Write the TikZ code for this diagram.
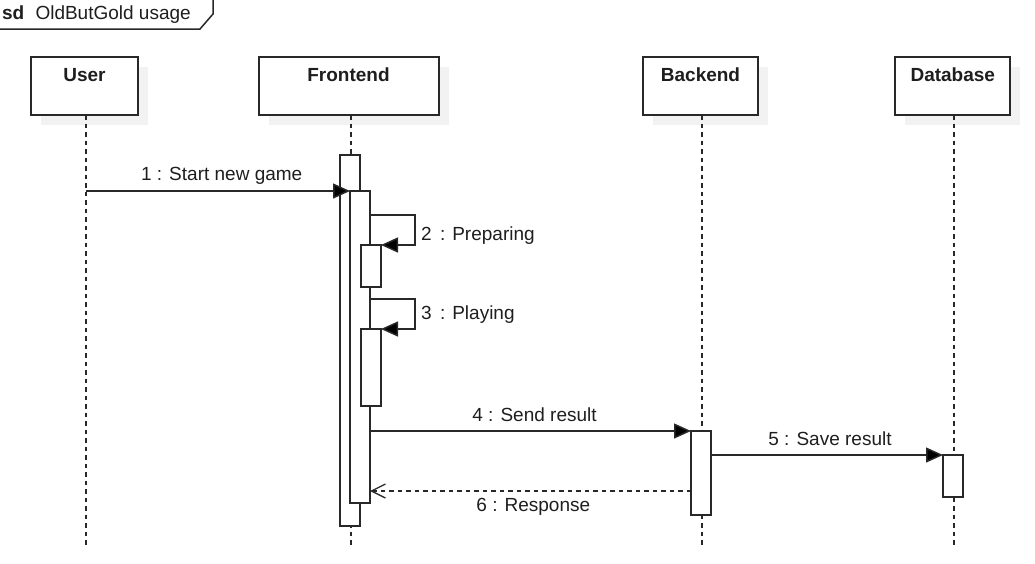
\documentclass[tikz,border=0pt]{standalone}
\usepackage{fontspec}
\setmainfont{Liberation Sans}
\usetikzlibrary{arrows.meta}
\definecolor{ln}{RGB}{40,40,40}
\definecolor{tx}{RGB}{30,30,30}
\definecolor{shd}{RGB}{242,242,242}
\begin{document}
\begin{tikzpicture}[x=1pt,y=-1pt,
  every node/.style={inner sep=0pt, outer sep=0pt, text=tx, font=\fontsize{19}{22}\selectfont},
  lbox/.style={draw=ln, line width=1.5pt, fill=white, anchor=north west,
    preaction={fill=shd, transform canvas={shift={(10pt,-10pt)}}}},
  actbox/.style={draw=ln, line width=1.5pt, fill=white, anchor=north west, minimum width=20pt},
  htext/.style={anchor=base, font=\fontsize{19}{22}\selectfont\bfseries},
  lifeline/.style={draw=ln, line width=1.5pt, dash pattern=on 4.5pt off 4pt},
  msg/.style={draw=ln, line width=1.5pt, -{Triangle[length=17pt,width=15pt,fill=black]}},
  reply/.style={draw=ln, line width=1.5pt, dash pattern=on 4.5pt off 4pt, -{Straight Barb[length=14pt,width=14pt,line width=1.3pt]}},
  mlabel/.style={anchor=base},
  slabel/.style={anchor=base west}
]
\useasboundingbox (0,0) rectangle (1035,563);

% frame tab
\coordinate (fa) at (0,29);
\coordinate (fb) at (200,29);
\coordinate (fc) at (213,14);
\coordinate (fd) at (213,0);
\draw[ln, line width=1.5pt] (fa) -- (fb) -- (fc) -- (fd);
\node[anchor=base west, font=\fontsize{19}{22}\selectfont\bfseries] (sd) at (2,19.5) {sd};
\node[anchor=base west] (title) at (35.5,19.5) {OldButGold usage};

% lifeline heads
\node[lbox, minimum width=107pt, minimum height=58pt] (user) at (31,57) {};
\node[lbox, minimum width=180pt, minimum height=58pt] (front) at (259,57) {};
\node[lbox, minimum width=115pt, minimum height=58pt] (back) at (643,57) {};
\node[lbox, minimum width=115pt, minimum height=58pt] (db) at (895,57) {};
\node[htext] (tuser) at (84.5,81.7) {User};
\node[htext] (tfront) at (348.5,81.7) {Frontend};
\node[htext] (tback) at (700.5,81.7) {Backend};
\node[htext] (tdb) at (952.8,81.7) {Database};

% lifelines
\coordinate (ua) at (86,115);   \coordinate (ub) at (86,548);
\coordinate (fra) at (351,115); \coordinate (frb) at (351,548);
\coordinate (ba) at (702,115);  \coordinate (bb) at (702,548);
\coordinate (da) at (954,115);  \coordinate (dbb) at (954,548);
\draw[lifeline] (ua) -- (ub);
\draw[lifeline] (fra) -- (frb);
\draw[lifeline] (ba) -- (bb);
\draw[lifeline] (da) -- (dbb);

% activations
\node[actbox, minimum height=371pt] (fa1) at (340,155) {};
\node[actbox, minimum height=312pt] (fa2) at (350,191) {};
\node[actbox, minimum height=42pt] (fa3) at (361,245) {};
\node[actbox, minimum height=77pt] (fa4) at (361,329) {};
\node[actbox, minimum height=84pt] (ba1) at (691,431) {};
\node[actbox, minimum height=42pt] (da1) at (943,455) {};

% messages
\coordinate (m1s) at (86,191);
\draw[msg] (m1s) -- (fa2.north west);
\node[mlabel] (l1) at (221.7,180.7) {1 : Start new game};

\coordinate (m2s) at (370,215);
\draw[msg] (m2s) -- (415,215) |- (fa3.north east);
\node[slabel] (l2) at (421,240.7) {2 \,: Preparing};

\coordinate (m3s) at (370,299);
\draw[msg] (m3s) -- (415,299) |- (fa4.north east);
\node[slabel] (l3) at (421,319) {3 \,: Playing};

\coordinate (m4s) at (370,431);
\draw[msg] (m4s) -- (ba1.north west);
\node[mlabel] (l4) at (534.5,421.7) {4 : Send result};

\coordinate (m5s) at (711,455);
\draw[msg] (m5s) -- (da1.north west);
\node[mlabel] (l5) at (830,445) {5 : Save result};

\coordinate (m6s) at (691,491);
\coordinate (m6e) at (370,491);
\draw[reply] (m6s) -- (m6e);
\node[mlabel] (l6) at (533.3,511) {6 : Response};
\end{tikzpicture}
\end{document}
